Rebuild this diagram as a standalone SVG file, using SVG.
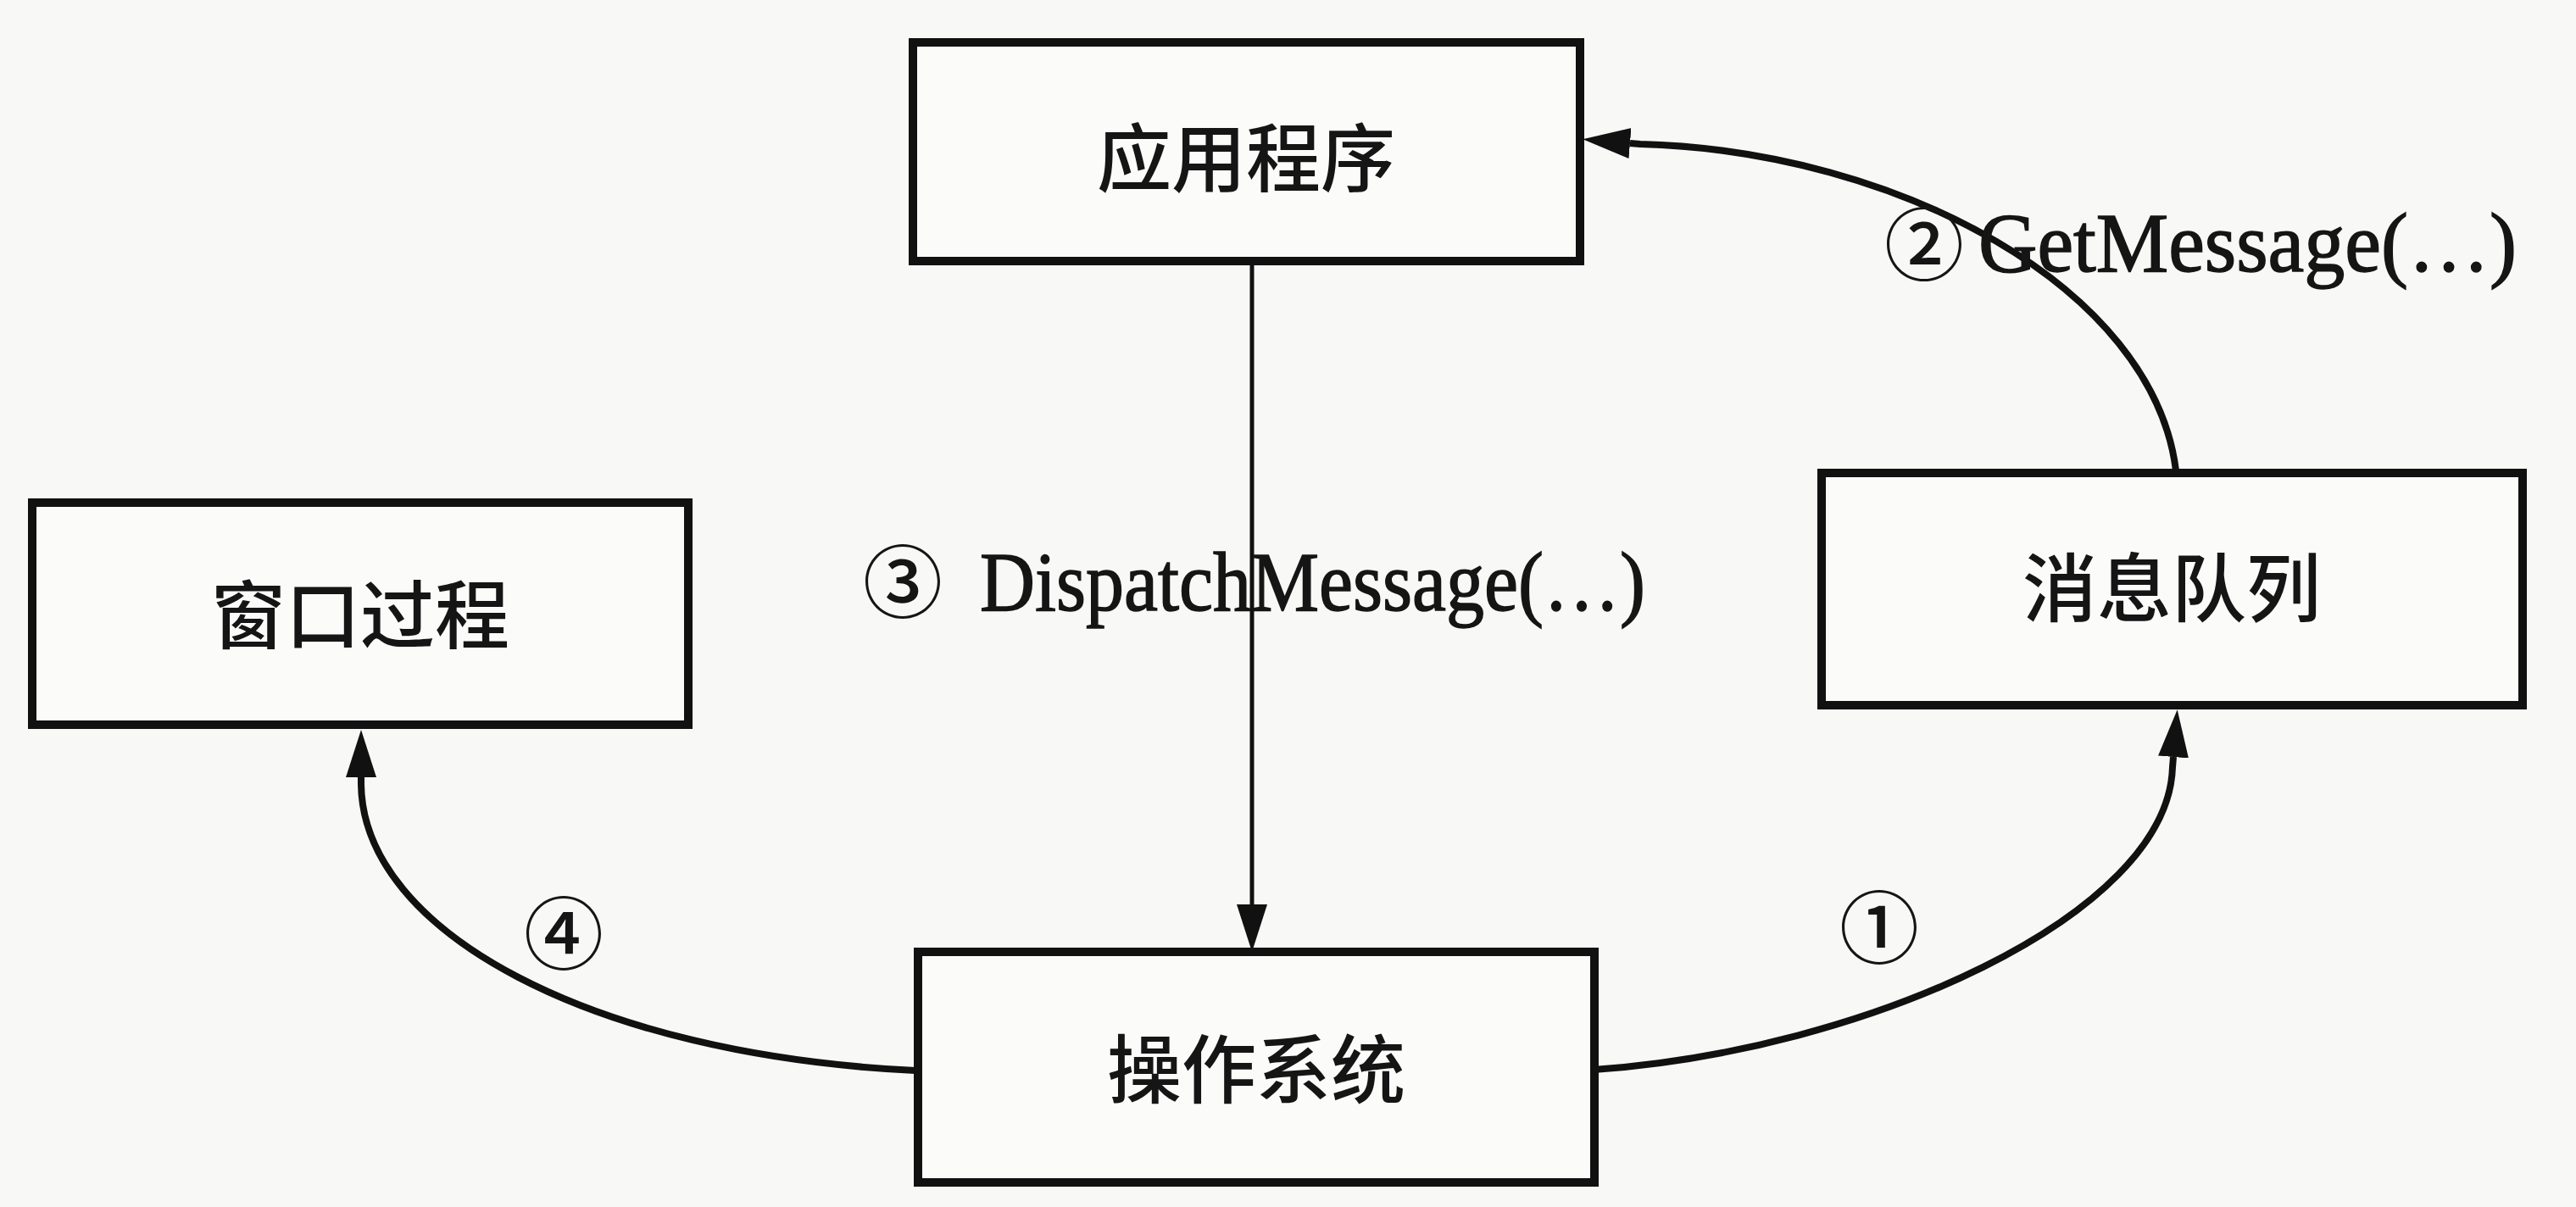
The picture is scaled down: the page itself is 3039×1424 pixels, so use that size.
<svg xmlns="http://www.w3.org/2000/svg" width="3039" height="1424" viewBox="0 0 3039 1424">
<style>
.box{fill:#fbfbfa;stroke:#111;stroke-width:10}
.cjk{font-family:"Noto Sans CJK SC","Noto Sans CJK TC",sans-serif;font-size:88px;font-weight:500;fill:#151515;text-anchor:middle}
.num{font-family:"Noto Sans CJK SC","DejaVu Sans",sans-serif;font-size:94px;font-weight:500;fill:#151515;text-anchor:middle}
.lbl{font-family:"Liberation Serif","Times New Roman",serif;font-size:100px;fill:#151515;stroke:#151515;stroke-width:1.5}
.edge{fill:none;stroke:#111;stroke-width:8}
</style>
<defs>
<marker id="arr" markerUnits="userSpaceOnUse" viewBox="0 -20 60 40" markerWidth="60" markerHeight="40" refX="0" refY="0" orient="auto">
<path d="M56,0 L0,-18 L0,18 Z" fill="#111"/>
</marker>
</defs>
<rect x="0" y="0" width="3039" height="1424" fill="#f8f8f6"/>
<g id="connectors">
<path class="edge" style="stroke-width:5" d="M1477,312 L1477,1067" marker-end="url(#arr)"/>
<path class="edge" d="M1880,1262 C2200,1240 2558,1080 2563,905 L2564,893" marker-end="url(#arr)"/>
<path class="edge" d="M2567,555 C2540,340 2240,178 1935,170 L1923,169" marker-end="url(#arr)"/>
<path class="edge" d="M1080,1263 C700,1245 428,1100 426,925 L426,917" marker-end="url(#arr)"/>
</g>
<g id="labels">
<text class="num" x="2270" y="324">②</text>
<text class="lbl" x="2334" y="320" textLength="635" lengthAdjust="spacingAndGlyphs">GetMessage(…)</text>
<text class="num" x="1065" y="722">③</text>
<text class="lbl" x="1156" y="720" textLength="785" lengthAdjust="spacingAndGlyphs">DispatchMessage(…)</text>
<text class="num" x="665" y="1137">④</text>
<text class="num" x="2217" y="1130">①</text>
</g>
<g id="node-app">
<rect class="box" x="1077" y="50" width="787" height="258"/>
<text class="cjk" x="1470" y="219">应用程序</text>
</g>
<g id="node-wndproc">
<rect class="box" x="38" y="593" width="774" height="262"/>
<text class="cjk" x="425" y="758">窗口过程</text>
</g>
<g id="node-queue">
<rect class="box" x="2149" y="558" width="827" height="274"/>
<text class="cjk" x="2562" y="726">消息队列</text>
</g>
<g id="node-os">
<rect class="box" x="1083" y="1123" width="798" height="272"/>
<text class="cjk" x="1482" y="1294">操作系统</text>
</g>
</svg>
